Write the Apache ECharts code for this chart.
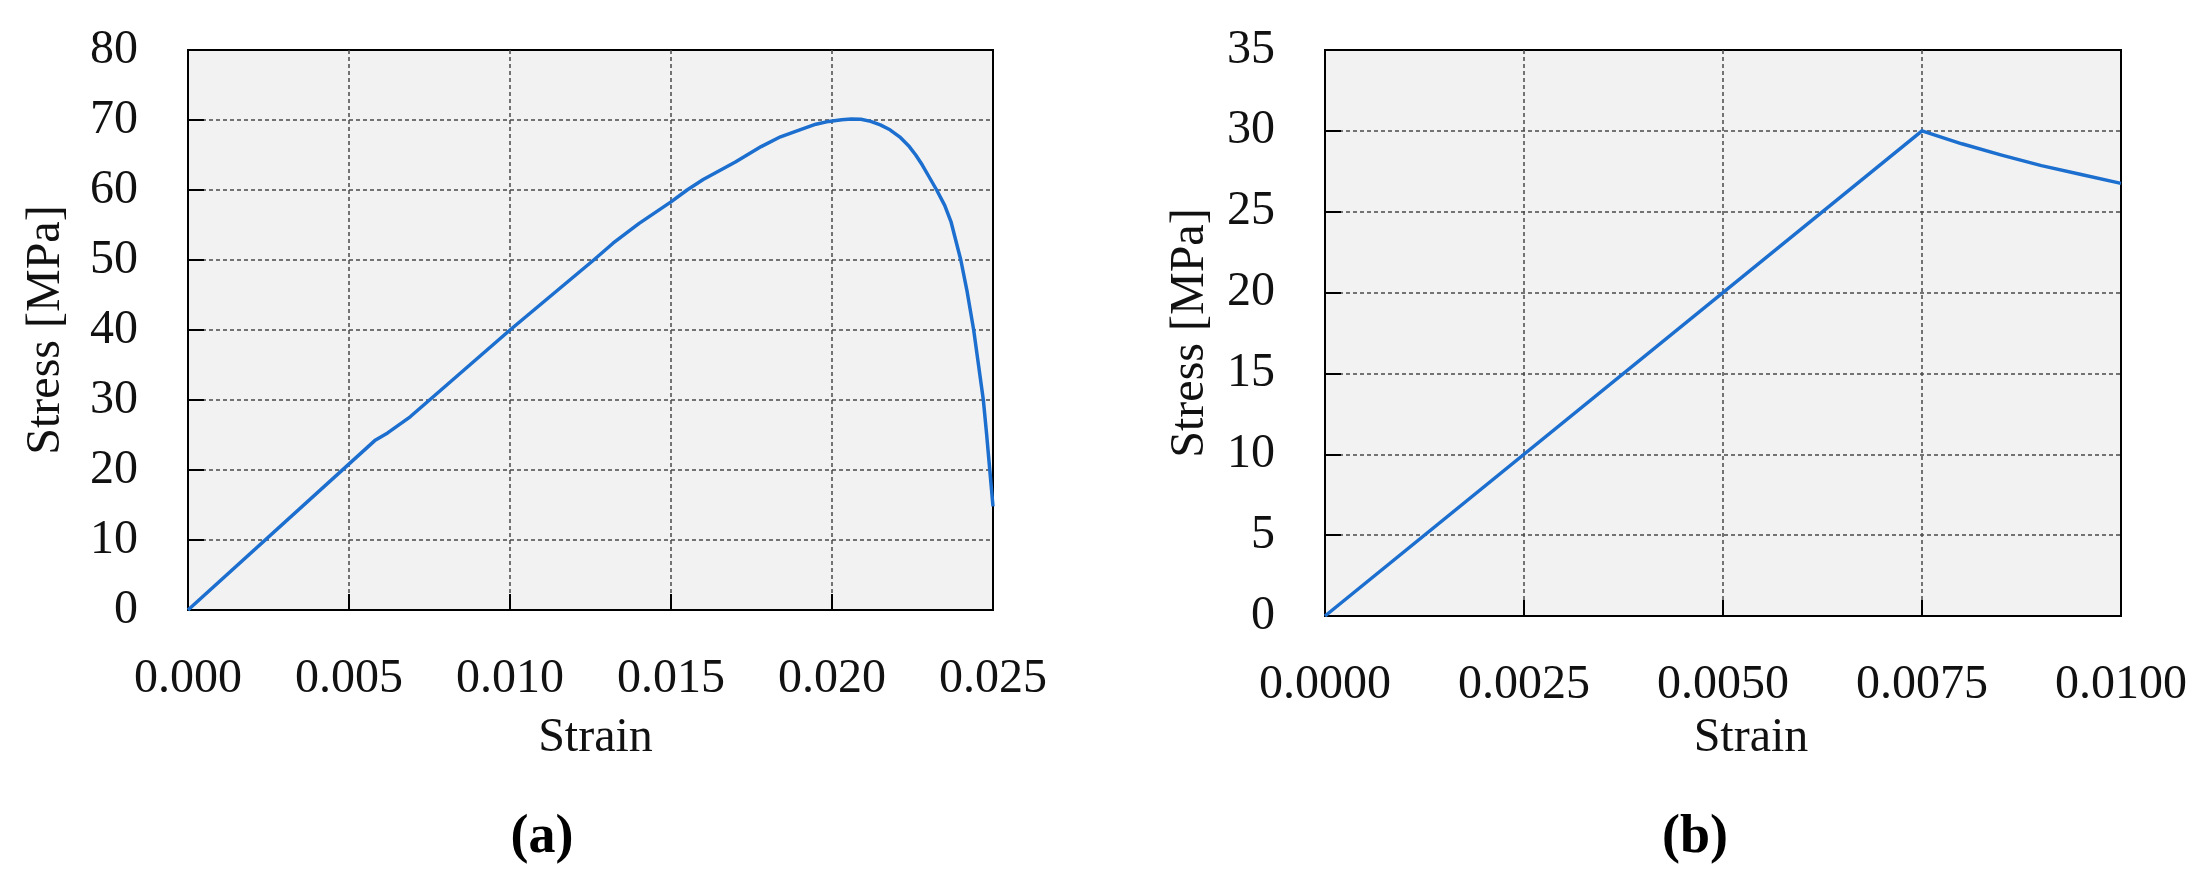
<!DOCTYPE html>
<html>
<head>
<meta charset="utf-8">
<script src="https://cdn.jsdelivr.net/npm/echarts@6/dist/echarts.min.js"></script>
<style>
  html, body { margin: 0; padding: 0; background: #fff; }
  #chart { width: 2203px; height: 885px; }
</style>
</head>
<body>
<div id="chart"></div>
<script>
// (a) stress-strain curve, strain / stress [MPa]
const strainA = [0, 0.0058, 0.0062, 0.0069, 0.0075, 0.0100, 0.0126, 0.0132, 0.0140, 0.0150,
  0.0155, 0.0160, 0.0170, 0.0178, 0.0184, 0.0190, 0.0195, 0.0199, 0.0203, 0.0206,
  0.0209, 0.0212, 0.0215, 0.0218, 0.0221, 0.0224, 0.0226, 0.0228, 0.0230, 0.02325,
  0.0235, 0.0237, 0.0240, 0.0242, 0.0244, 0.02455, 0.0247, 0.0248, 0.0249, 0.0250]
const stressA = [0, 24.2, 25.3, 27.6, 30.0, 40.0, 50.0, 52.4, 55.2, 58.3,
  60.0, 61.5, 64.0, 66.2, 67.6, 68.6, 69.4, 69.8, 70.05, 70.15,
  70.1, 69.8, 69.3, 68.6, 67.6, 66.2, 65.0, 63.6, 62.0, 60.0,
  57.8, 55.4, 50.0, 45.4, 40.0, 35.0, 30.0, 25.2, 20.0, 14.8]

// (b) stress-strain curve
const strainB = [0, 0.0075, 0.0080, 0.0085, 0.0090, 0.0095, 0.0100]
const stressB = [0, 30.0, 29.2, 28.5, 27.85, 27.3, 26.75]

const ticksA = { min: 0, max: 0.025, interval: 0.005, digits: 3 }
const ticksB = { min: 0, max: 0.01, interval: 0.0025, digits: 4 }

const FONT = 'Liberation Serif'
const lineColor = '#1c6fcf'

let pairs = (xs, ys) => xs.map((x, i) => [x, ys[i]])

let gridLine = {
  show: true,
  showMinLine: false,
  showMaxLine: false,
  lineStyle: { color: '#4a4a4a', width: 1.5, type: [4, 3] }
}

let xAxisOf = (idx, t, nameGap, namePad) => ({
  type: 'value',
  gridIndex: idx,
  min: t.min,
  max: t.max,
  interval: t.interval,
  name: 'Strain',
  nameLocation: 'middle',
  nameGap: nameGap,
  nameTextStyle: { fontFamily: FONT, fontSize: 48, color: '#111', padding: namePad },
  axisLine: { show: false },
  axisTick: { show: true, inside: true, length: 16, lineStyle: { color: '#000', width: 2 } },
  axisLabel: {
    margin: 45,
    fontFamily: FONT,
    fontSize: 48,
    color: '#111',
    formatter: v => v.toFixed(t.digits)
  },
  splitLine: gridLine
})

let yAxisOf = (idx, max, interval, nameGap) => ({
  type: 'value',
  gridIndex: idx,
  min: 0,
  max: max,
  interval: interval,
  name: 'Stress [MPa]',
  nameLocation: 'middle',
  nameGap: nameGap,
  nameTextStyle: { fontFamily: FONT, fontSize: 48, color: '#111' },
  axisLine: { show: false },
  axisTick: { show: true, inside: true, length: 16, lineStyle: { color: '#000', width: 2 } },
  axisLabel: { margin: 50, fontFamily: FONT, fontSize: 48, color: '#111' },
  splitLine: gridLine
})

let captionOf = (letter, x) => ({
  text: '{p|(}{b|' + letter + '}{p|)}',
  left: x,
  top: 806,
  textAlign: 'center',
  textStyle: {
    rich: {
      p: { fontFamily: FONT, fontSize: 54, color: '#000' },
      b: { fontFamily: FONT, fontSize: 54, fontWeight: 'bold', color: '#000' }
    }
  }
})

let chartInstance = echarts.init(document.getElementById('chart'), null, { renderer: 'canvas' })

const option = {
  animation: false,
  backgroundColor: '#fff',
  title: [captionOf('a', 537), captionOf('b', 1690)],
  grid: [
    { left: 188, top: 50, width: 805, height: 560, show: true, backgroundColor: '#f2f2f2', borderColor: '#000', borderWidth: 2 },
    { left: 1325, top: 50, width: 796, height: 566, show: true, backgroundColor: '#f2f2f2', borderColor: '#000', borderWidth: 2 }
  ],
  xAxis: [
    xAxisOf(0, ticksA, 104, [0, 0, 0, 10]),
    xAxisOf(1, ticksB, 98, [0, 0, 0, 56])
  ],
  yAxis: [
    yAxisOf(0, 80, 10, 118),
    yAxisOf(1, 35, 5, 111)
  ],
  series: [
    {
      type: 'line',
      xAxisIndex: 0,
      yAxisIndex: 0,
      data: pairs(strainA, stressA),
      smooth: false,
      showSymbol: false,
      lineStyle: { color: lineColor, width: 3.5, join: 'round' },
      z: 5
    },
    {
      type: 'line',
      xAxisIndex: 1,
      yAxisIndex: 1,
      data: pairs(strainB, stressB),
      smooth: false,
      showSymbol: false,
      lineStyle: { color: lineColor, width: 3.5, join: 'round' },
      z: 5
    }
  ]
}

chartInstance.setOption(option)
</script>
</body>
</html>
